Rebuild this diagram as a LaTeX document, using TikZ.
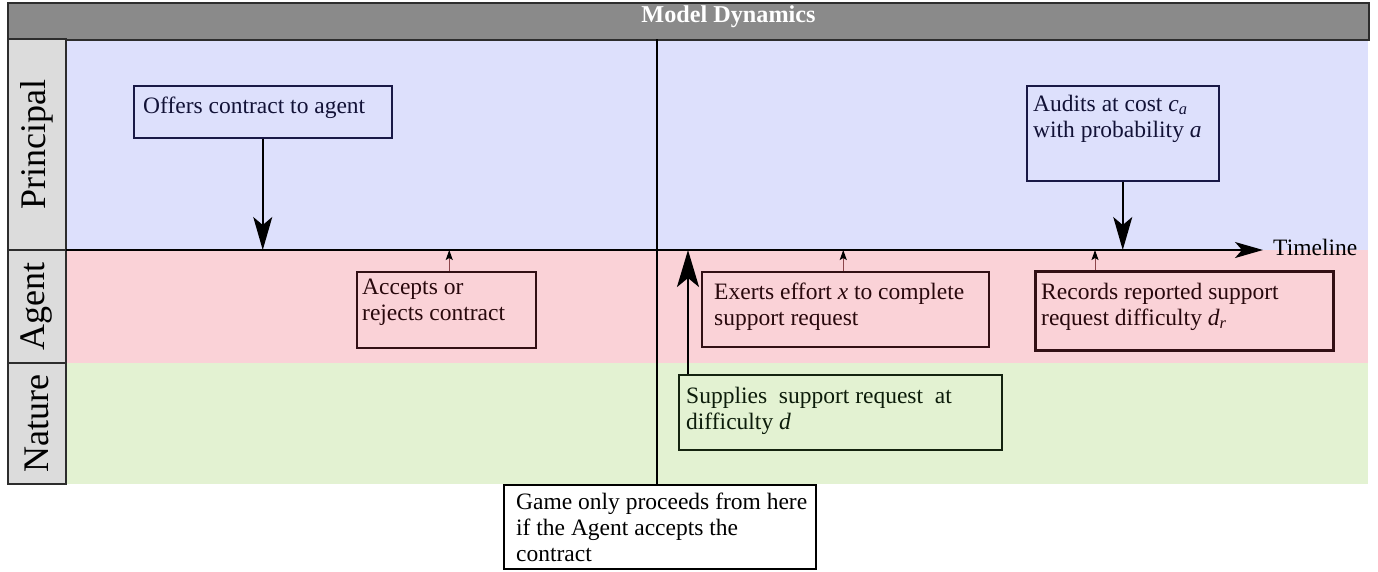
\documentclass[tikz,border=0pt]{standalone}
\usepackage{fontspec}
\setmainfont{Liberation Serif}
\usetikzlibrary{arrows.meta,calc}
\definecolor{laneP}{RGB}{221,224,252}
\definecolor{laneA}{RGB}{250,210,215}
\definecolor{laneN}{RGB}{227,242,210}
\definecolor{cellG}{RGB}{220,220,220}
\definecolor{barG}{RGB}{138,138,138}
\definecolor{lineD}{RGB}{45,45,45}
\definecolor{bordP}{RGB}{25,25,70}
\definecolor{bordA}{RGB}{50,15,20}
\definecolor{bordN}{RGB}{20,35,15}
\definecolor{textP}{RGB}{18,18,55}
\definecolor{textA}{RGB}{40,8,12}
\definecolor{textN}{RGB}{12,28,10}
\definecolor{arrowR}{RGB}{140,70,75}
\begin{document}
\begin{tikzpicture}[x=1pt,y=-1pt,
  cell/.style={draw=lineD, line width=1.3pt, fill=cellG, rotate=90, inner sep=0pt,
    font=\fontsize{36}{40}\selectfont},
  boxbase/.style={line width=1.5pt, inner sep=0pt, anchor=north west},
  pbox/.style={boxbase, draw=bordP},
  abox/.style={boxbase, draw=bordA},
  nbox/.style={boxbase, draw=bordN},
  txt/.style={font=\fontsize{23.5}{26}\selectfont, inner sep=0pt, align=left, anchor=north west},
  bigarrow/.style={line width=1.5pt, -{Stealth[length=33pt,width=19pt,inset=8pt]}},
  smallarrow/.style={draw=arrowR, line width=1pt, -{Stealth[black,length=10pt,width=7pt,inset=2pt]}}
]
\useasboundingbox (0,0) rectangle (1378,571);
% lanes
\fill[laneP] (66,39) rectangle (1368,250);
\fill[laneA] (66,250) rectangle (1368,363);
\fill[laneN] (66,363) rectangle (1368,484);
% title bar
\node[draw=lineD, line width=1.5pt, fill=barG, minimum width=1361pt, minimum height=37pt,
  inner sep=0pt, anchor=north west] (titlebar) at (7,2) {};
\node[font=\fontsize{24.2}{26}\selectfont\bfseries, text=white, inner sep=0pt, anchor=base]
  (titleT) at (728.5,22.5) {Model Dynamics};
% lane labels
\node[cell, minimum width=211pt, minimum height=58pt] (principalL) at (37,144.5) {Principal};
\node[cell, minimum width=113pt, minimum height=58pt] (agentL) at (37,306.5) {Agent};
\node[cell, minimum width=121pt, minimum height=58pt] (natureL) at (37,423.5) {Nature};
% timeline
\coordinate (tlS) at (66,250);
\coordinate (tlE) at (1263,250);
\draw[line width=1.5pt, -{Stealth[length=28pt,width=16pt,inset=7pt]}] (tlS) -- (tlE);
\node[txt, anchor=base west] (timelineT) at (1273,255) {Timeline};
% boxes
\node[pbox, minimum width=258pt, minimum height=52pt] (offers) at (133,85) {};
\node[txt, text=textP] (offersT) at (143,96.5) {Offers contract to agent};
\node[pbox, minimum width=192pt, minimum height=95pt] (audits) at (1026,85) {};
\node[txt, text=textP] (auditsT) at (1033,94.5) {Audits at cost \textit{c}\textsubscript{\textit{a}}\\with probability \textit{a}};
\node[abox, minimum width=179pt, minimum height=76pt] (accepts) at (356,271) {};
\node[txt, text=textA] (acceptsT) at (362,278.5) {Accepts or\\rejects contract};
\node[abox, minimum width=287pt, minimum height=75pt] (exerts) at (701,271) {};
\node[txt, text=textA] (exertsT) at (714,282.5) {Exerts effort \textit{x} to complete\\support request};
\node[abox, line width=2.5pt, minimum width=298pt, minimum height=79pt] (records) at (1034,270) {};
\node[txt, text=textA] (recordsT) at (1041,282.5) {Records reported support\\request difficulty \textit{d}\textsubscript{\textit{r}}};
\node[nbox, minimum width=323pt, minimum height=75pt] (supplies) at (678,374) {};
\node[txt, text=textN] (suppliesT) at (686,386.5) {Supplies\ \ support request\ \ at\\difficulty \textit{d}};
\node[boxbase, draw=black, line width=2pt, fill=white, minimum width=312pt, minimum height=84pt] (game) at (503,484) {};
\node[txt, text=black] (gameT) at (516,492.5) {Game only proceeds from here\\if the Agent accepts the\\contract};
% divider
\coordinate (vtop) at (657,39);
\draw[line width=1.5pt] (vtop) -- (vtop |- game.north);
% arrows
\draw[bigarrow] (offers.south) -- (offers.south |- tlS);
\draw[bigarrow] (audits.south) -- (audits.south |- tlS);
\coordinate (supA) at ($(supplies.north west)+(10,0)$);
\draw[bigarrow, line width=2.5pt, -{Stealth[length=37pt,width=22pt,inset=9pt]}] (supA) -- (supA |- tlS);
\coordinate (accA) at ($(accepts.north)+(3,0)$);
\draw[smallarrow] (accA) -- (accA |- tlS);
\coordinate (exA) at ($(exerts.north)+(-2,0)$);
\draw[smallarrow] (exA) -- (exA |- tlS);
\coordinate (recA) at ($(records.north west)+(61,0)$);
\draw[smallarrow] (recA) -- (recA |- tlS);
\end{tikzpicture}
\end{document}
